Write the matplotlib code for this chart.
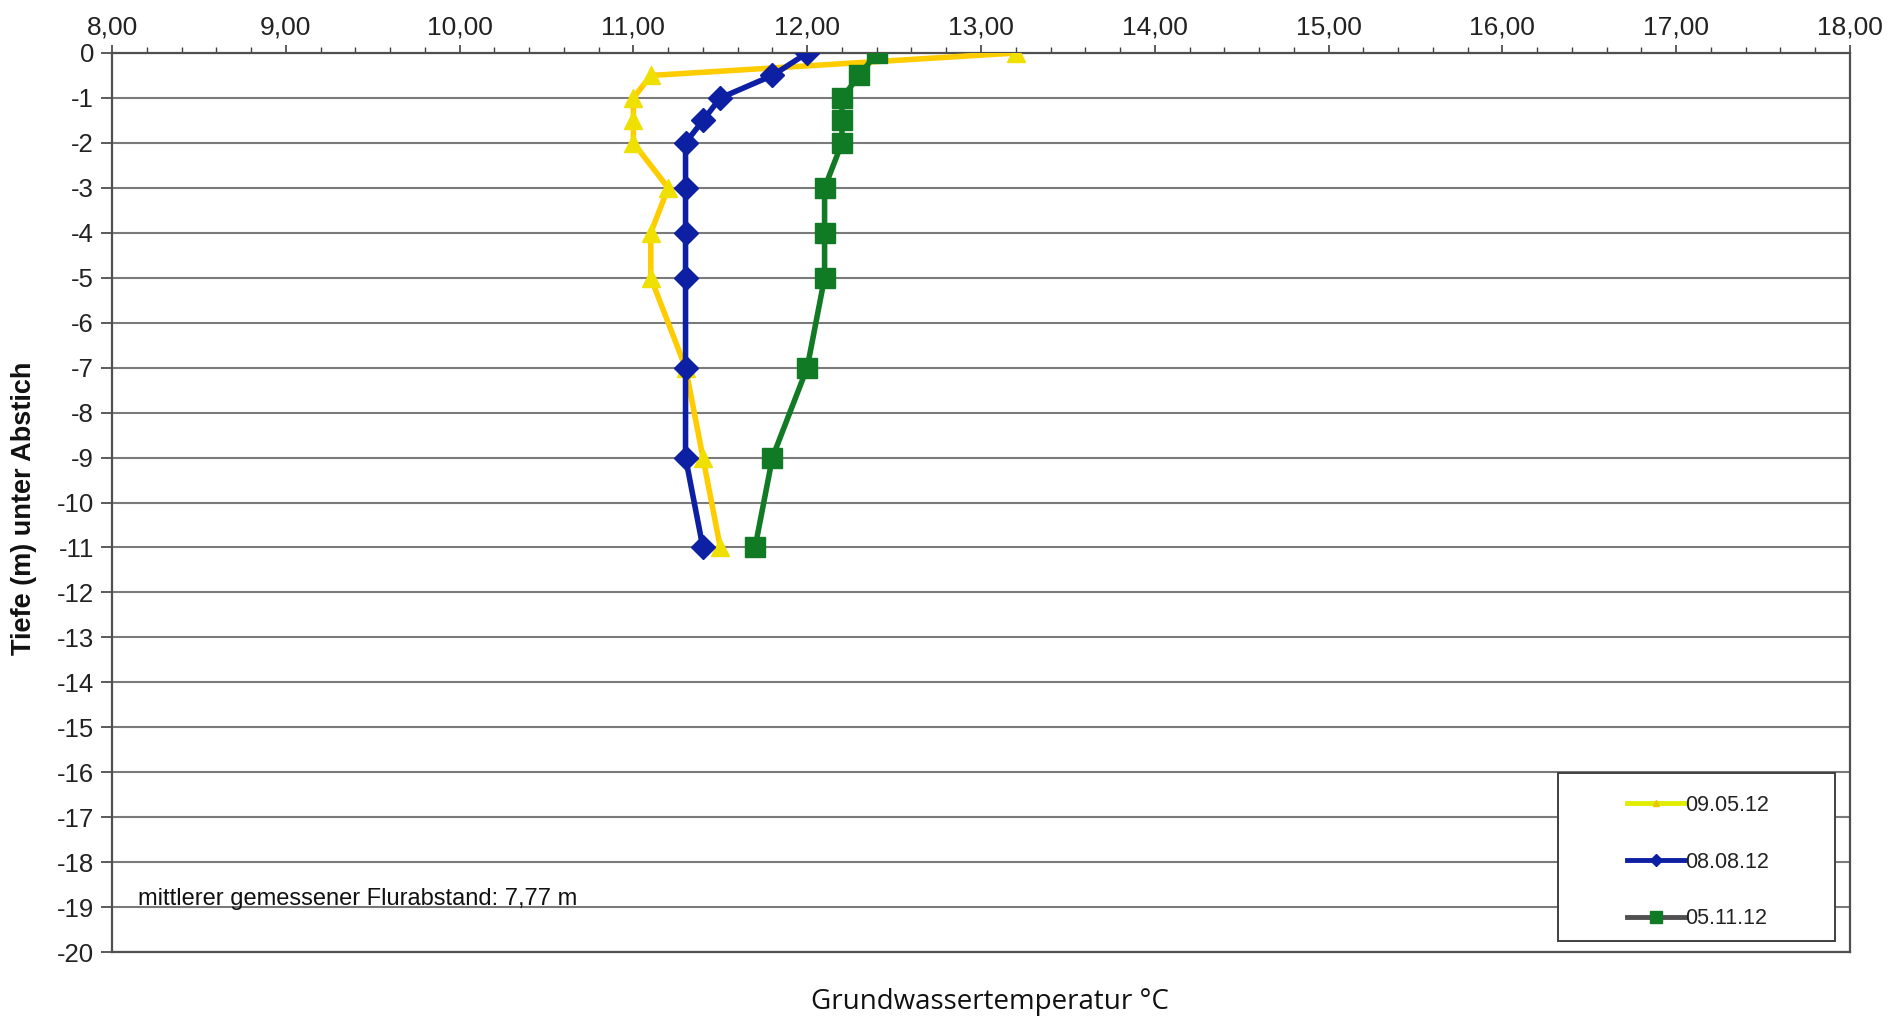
import matplotlib
matplotlib.use("Agg")
import matplotlib.pyplot as plt
from matplotlib.ticker import MultipleLocator, FuncFormatter
from matplotlib.lines import Line2D
from matplotlib.patches import Rectangle

plt.rcParams['font.family'] = ['Liberation Sans', 'DejaVu Sans']

# depth below reference point (m)
depths = [0, -0.5, -1, -1.5, -2, -3, -4, -5, -7, -9, -11]

# groundwater temperature (°C) per survey date
temp_0905 = [13.2, 11.1, 11.0, 11.0, 11.0, 11.2, 11.1, 11.1, 11.3, 11.4, 11.5]
temp_0808 = [12.0, 11.8, 11.5, 11.4, 11.3, 11.3, 11.3, 11.3, 11.3, 11.3, 11.4]
temp_0511 = [12.4, 12.3, 12.2, 12.2, 12.2, 12.1, 12.1, 12.1, 12.0, 11.8, 11.7]

series_labels = ["09.05.12", "08.08.12", "05.11.12"]
x_label = "Grundwassertemperatur °C"
y_label = "Tiefe (m) unter Abstich"
note = "mittlerer gemessener Flurabstand: 7,77 m"

W, H = 1903, 1017
fig = plt.figure(figsize=(W / 100, H / 100), dpi=100)
ax = fig.add_axes([112 / W, 1 - 952 / H, (1850 - 112) / W, (952 - 53) / H])

ax.set_xlim(8, 18)
ax.set_ylim(-20, 0)

ax.xaxis.set_ticks_position('top')
ax.xaxis.set_label_position('bottom')
ax.xaxis.set_major_locator(MultipleLocator(1))
ax.xaxis.set_minor_locator(MultipleLocator(0.2))
ax.xaxis.set_major_formatter(FuncFormatter(lambda v, p: f"{v:.2f}".replace('.', ',')))
ax.yaxis.set_major_locator(MultipleLocator(1))
ax.yaxis.set_major_formatter(FuncFormatter(lambda v, p: f"{int(round(v))}"))

ax.tick_params(axis='x', which='major', direction='out', length=6, width=1.2,
               colors='#404040', labelcolor='#222222', labelsize=19, pad=4)
ax.tick_params(axis='x', which='minor', direction='out', length=4, width=1.0,
               colors='#404040')
ax.tick_params(axis='y', which='major', direction='out', length=8, width=1.2,
               colors='#404040', labelcolor='#222222', labelsize=18.5, pad=5)

ax.grid(axis='y', color='#7a7a7a', linewidth=1.5)
ax.set_axisbelow(True)
for side in ['left', 'right', 'top', 'bottom']:
    ax.spines[side].set_color('#505050')
    ax.spines[side].set_linewidth(1.6)

ax.plot(temp_0905, depths, color='#FFCC00', linewidth=4, marker='^',
        markersize=13, markerfacecolor='#F0E000', markeredgecolor='#F0E000',
        zorder=3)
ax.plot(temp_0808, depths, color='#0D1FA3', linewidth=4, marker='D',
        markersize=12, markerfacecolor='#0D1FA3', markeredgecolor='#0D1FA3',
        zorder=4)
ax.plot(temp_0511, depths, color='#117A24', linewidth=4, marker='s',
        markersize=14, markerfacecolor='#117A24', markeredgecolor='#117A24',
        zorder=3)

ax.text(138 / W, 1 - 899 / H, note, transform=fig.transFigure,
        fontsize=17, color='#111111', va='center', ha='left')

fig.text(24 / W, 1 - 508 / H, y_label, rotation=90, fontsize=19.5,
         fontweight='bold', color='#111111', ha='center', va='center')
fig.text(990 / W, 1 - 1002 / H, x_label, fontsize=20,
         family=['Open Sans', 'DejaVu Sans'], color='#111111',
         ha='center', va='center')

# legend frame
fig.patches.append(Rectangle((1558 / W, 1 - 941 / H), (1835 - 1558) / W, (941 - 773) / H,
                             transform=fig.transFigure, facecolor='white',
                             edgecolor='#404040', linewidth=1.4, zorder=5))

handles = [
    Line2D([], [], color='#E0EC00', linewidth=3.5, marker='^', markersize=5,
           markerfacecolor='#E8C800', markeredgecolor='#E8C800'),
    Line2D([], [], color='#0D1FA3', linewidth=3.5, marker='D', markersize=6),
    Line2D([], [], color='#505050', linewidth=3.5, marker='s', markersize=8,
           markerfacecolor='#117A24', markeredgecolor='#117A24'),
]
leg = fig.legend(handles, series_labels, loc='upper left',
                 bbox_to_anchor=(1627 / W, 1 - 795 / H),
                 frameon=False, fontsize=15.5, handlelength=2.7,
                 handletextpad=0.0, labelspacing=1.65, borderpad=0,
                 borderaxespad=0, labelcolor='#222222')
leg.set_zorder(6)

fig.savefig('out.png', dpi=100, facecolor='white')
